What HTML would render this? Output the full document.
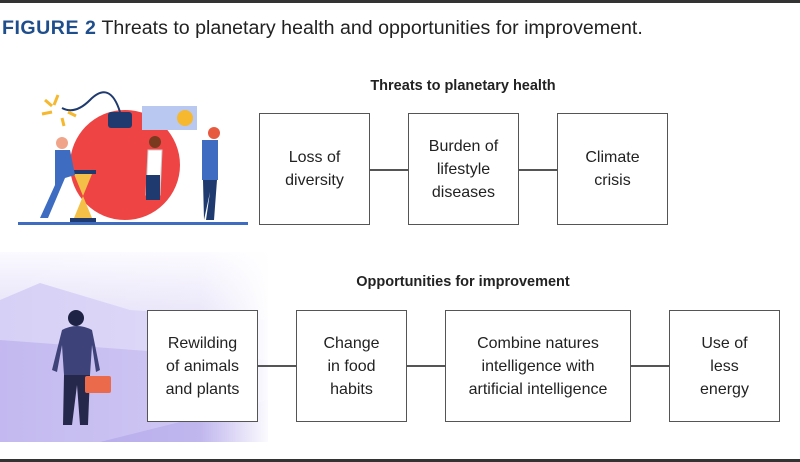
<!DOCTYPE html>
<html><head><style>
body{margin:0;width:800px;height:462px;background:#fff;position:relative;overflow:hidden;font-family:"Liberation Sans",Arial,sans-serif;color:#222}
.b{position:absolute;border:1.5px solid #555;box-sizing:border-box;display:flex;align-items:center;justify-content:center;text-align:center;font-size:16px;line-height:23px;background:#fff}
.l{position:absolute;height:1.5px;background:#555}
.t{position:absolute;font-weight:bold;font-size:14.5px;width:400px;text-align:center;left:263px}
</style></head><body>
<div style="position:absolute;left:0;top:0;width:800px;height:3px;background:#333"></div>
<div style="position:absolute;left:0;top:459px;width:800px;height:3px;background:#333"></div>
<div style="position:absolute;left:2px;top:17px;font-size:19.6px;white-space:nowrap"><b style="color:#1f4e8c;letter-spacing:0.5px">FIGURE 2</b> Threats to planetary health and opportunities for improvement.</div>

<svg style="position:absolute;left:0;top:0" width="270" height="462">
<defs><linearGradient id="f" x1="0" x2="1"><stop offset="0" stop-color="#fff" stop-opacity="0"/><stop offset="0.75" stop-color="#fff" stop-opacity="0.2"/><stop offset="1" stop-color="#fff" stop-opacity="0.95"/></linearGradient>
<linearGradient id="g2" x1="0" y1="0" x2="0" y2="1"><stop offset="0" stop-color="#fbfaff"/><stop offset="1" stop-color="#b8aeea"/></linearGradient></defs>
<rect x="0" y="252" width="268" height="190" fill="url(#g2)"/>
<path d="M0 300 L40 283 L130 310 L268 320 L268 442 L0 442Z" fill="#d6d0f6"/>
<path d="M0 340 L268 360 L268 442 L0 442Z" fill="#c3b9f0"/>
<path d="M100 442 L268 400 L268 442Z" fill="#b1a5ea"/>
<rect x="0" y="252" width="268" height="190" fill="url(#f)"/>
<circle cx="76" cy="318" r="8" fill="#1e2244"/>
<path d="M62 330 Q77 322 92 330 L100 370 L96 372 L92 345 L90 375 L64 375 L62 345 L57 372 L52 370Z" fill="#3d4278"/>
<path d="M64 375 L90 375 L88 425 L80 425 L77 385 L72 425 L63 425Z" fill="#25284a"/>
<rect x="85" y="376" width="26" height="17" rx="2" fill="#ec6a4c"/>
<rect x="18" y="222" width="230" height="3" fill="#3d6cc0"/>
<circle cx="125" cy="165" r="55" fill="#ef4444"/>
<rect x="108" y="112" width="24" height="16" rx="3" fill="#1e3a6e"/>
<path d="M120 112 Q110 80 90 100 Q75 115 62 108" stroke="#1e3a6e" stroke-width="2" fill="none"/>
<g stroke="#f5b82e" stroke-width="3"><line x1="58" y1="95" x2="54" y2="105"/><line x1="45" y1="100" x2="52" y2="106"/><line x1="42" y1="114" x2="52" y2="112"/><line x1="68" y1="112" x2="76" y2="116"/><line x1="62" y1="118" x2="64" y2="126"/></g>
<rect x="142" y="106" width="55" height="24" fill="#b9c8f0"/>
<circle cx="185" cy="118" r="8" fill="#f5b82e"/>
<rect x="70" y="170" width="26" height="4" fill="#1e3a6e"/><rect x="70" y="218" width="26" height="4" fill="#1e3a6e"/>
<path d="M74 174 L92 174 L83 196 L92 218 L74 218 L83 196Z" fill="#f5c048"/>
<path d="M55 150 L70 150 L75 175 L65 178 L48 218 L40 218 L55 185Z" fill="#3d6cc0"/><circle cx="62" cy="143" r="6" fill="#f0a58a"/>
<path d="M148 150 L162 150 L160 195 L146 195Z" fill="#fff" stroke="#ccc"/><rect x="146" y="175" width="14" height="25" fill="#1e3a6e"/><circle cx="155" cy="142" r="6" fill="#7a3a20"/>
<path d="M202 140 L218 140 L218 180 L202 180Z" fill="#3d6cc0"/><path d="M203 180 L217 180 L214 220 L206 220 L210 192 L204 220Z" fill="#1e3a6e"/><circle cx="214" cy="133" r="6" fill="#e85a40"/>
</svg>

<div class="t" style="top:78px">Threats to planetary health</div>
<div class="t" style="top:274px">Opportunities for improvement</div>

<div class="l" style="left:369px;top:169px;width:40px"></div>
<div class="l" style="left:518px;top:169px;width:40px"></div>
<div class="b" style="left:259px;top:113px;width:111px;height:112px">Loss of<br>diversity</div>
<div class="b" style="left:408px;top:113px;width:111px;height:112px">Burden of<br>lifestyle<br>diseases</div>
<div class="b" style="left:557px;top:113px;width:111px;height:112px">Climate<br>crisis</div>

<div class="l" style="left:257px;top:365px;width:40px"></div>
<div class="l" style="left:406px;top:365px;width:40px"></div>
<div class="l" style="left:630px;top:365px;width:40px"></div>
<div class="b" style="left:147px;top:310px;width:111px;height:112px">Rewilding<br>of animals<br>and plants</div>
<div class="b" style="left:296px;top:310px;width:111px;height:112px">Change<br>in food<br>habits</div>
<div class="b" style="left:445px;top:310px;width:186px;height:112px">Combine natures<br>intelligence with<br>artificial intelligence</div>
<div class="b" style="left:669px;top:310px;width:111px;height:112px">Use of<br>less<br>energy</div>
</body></html>
